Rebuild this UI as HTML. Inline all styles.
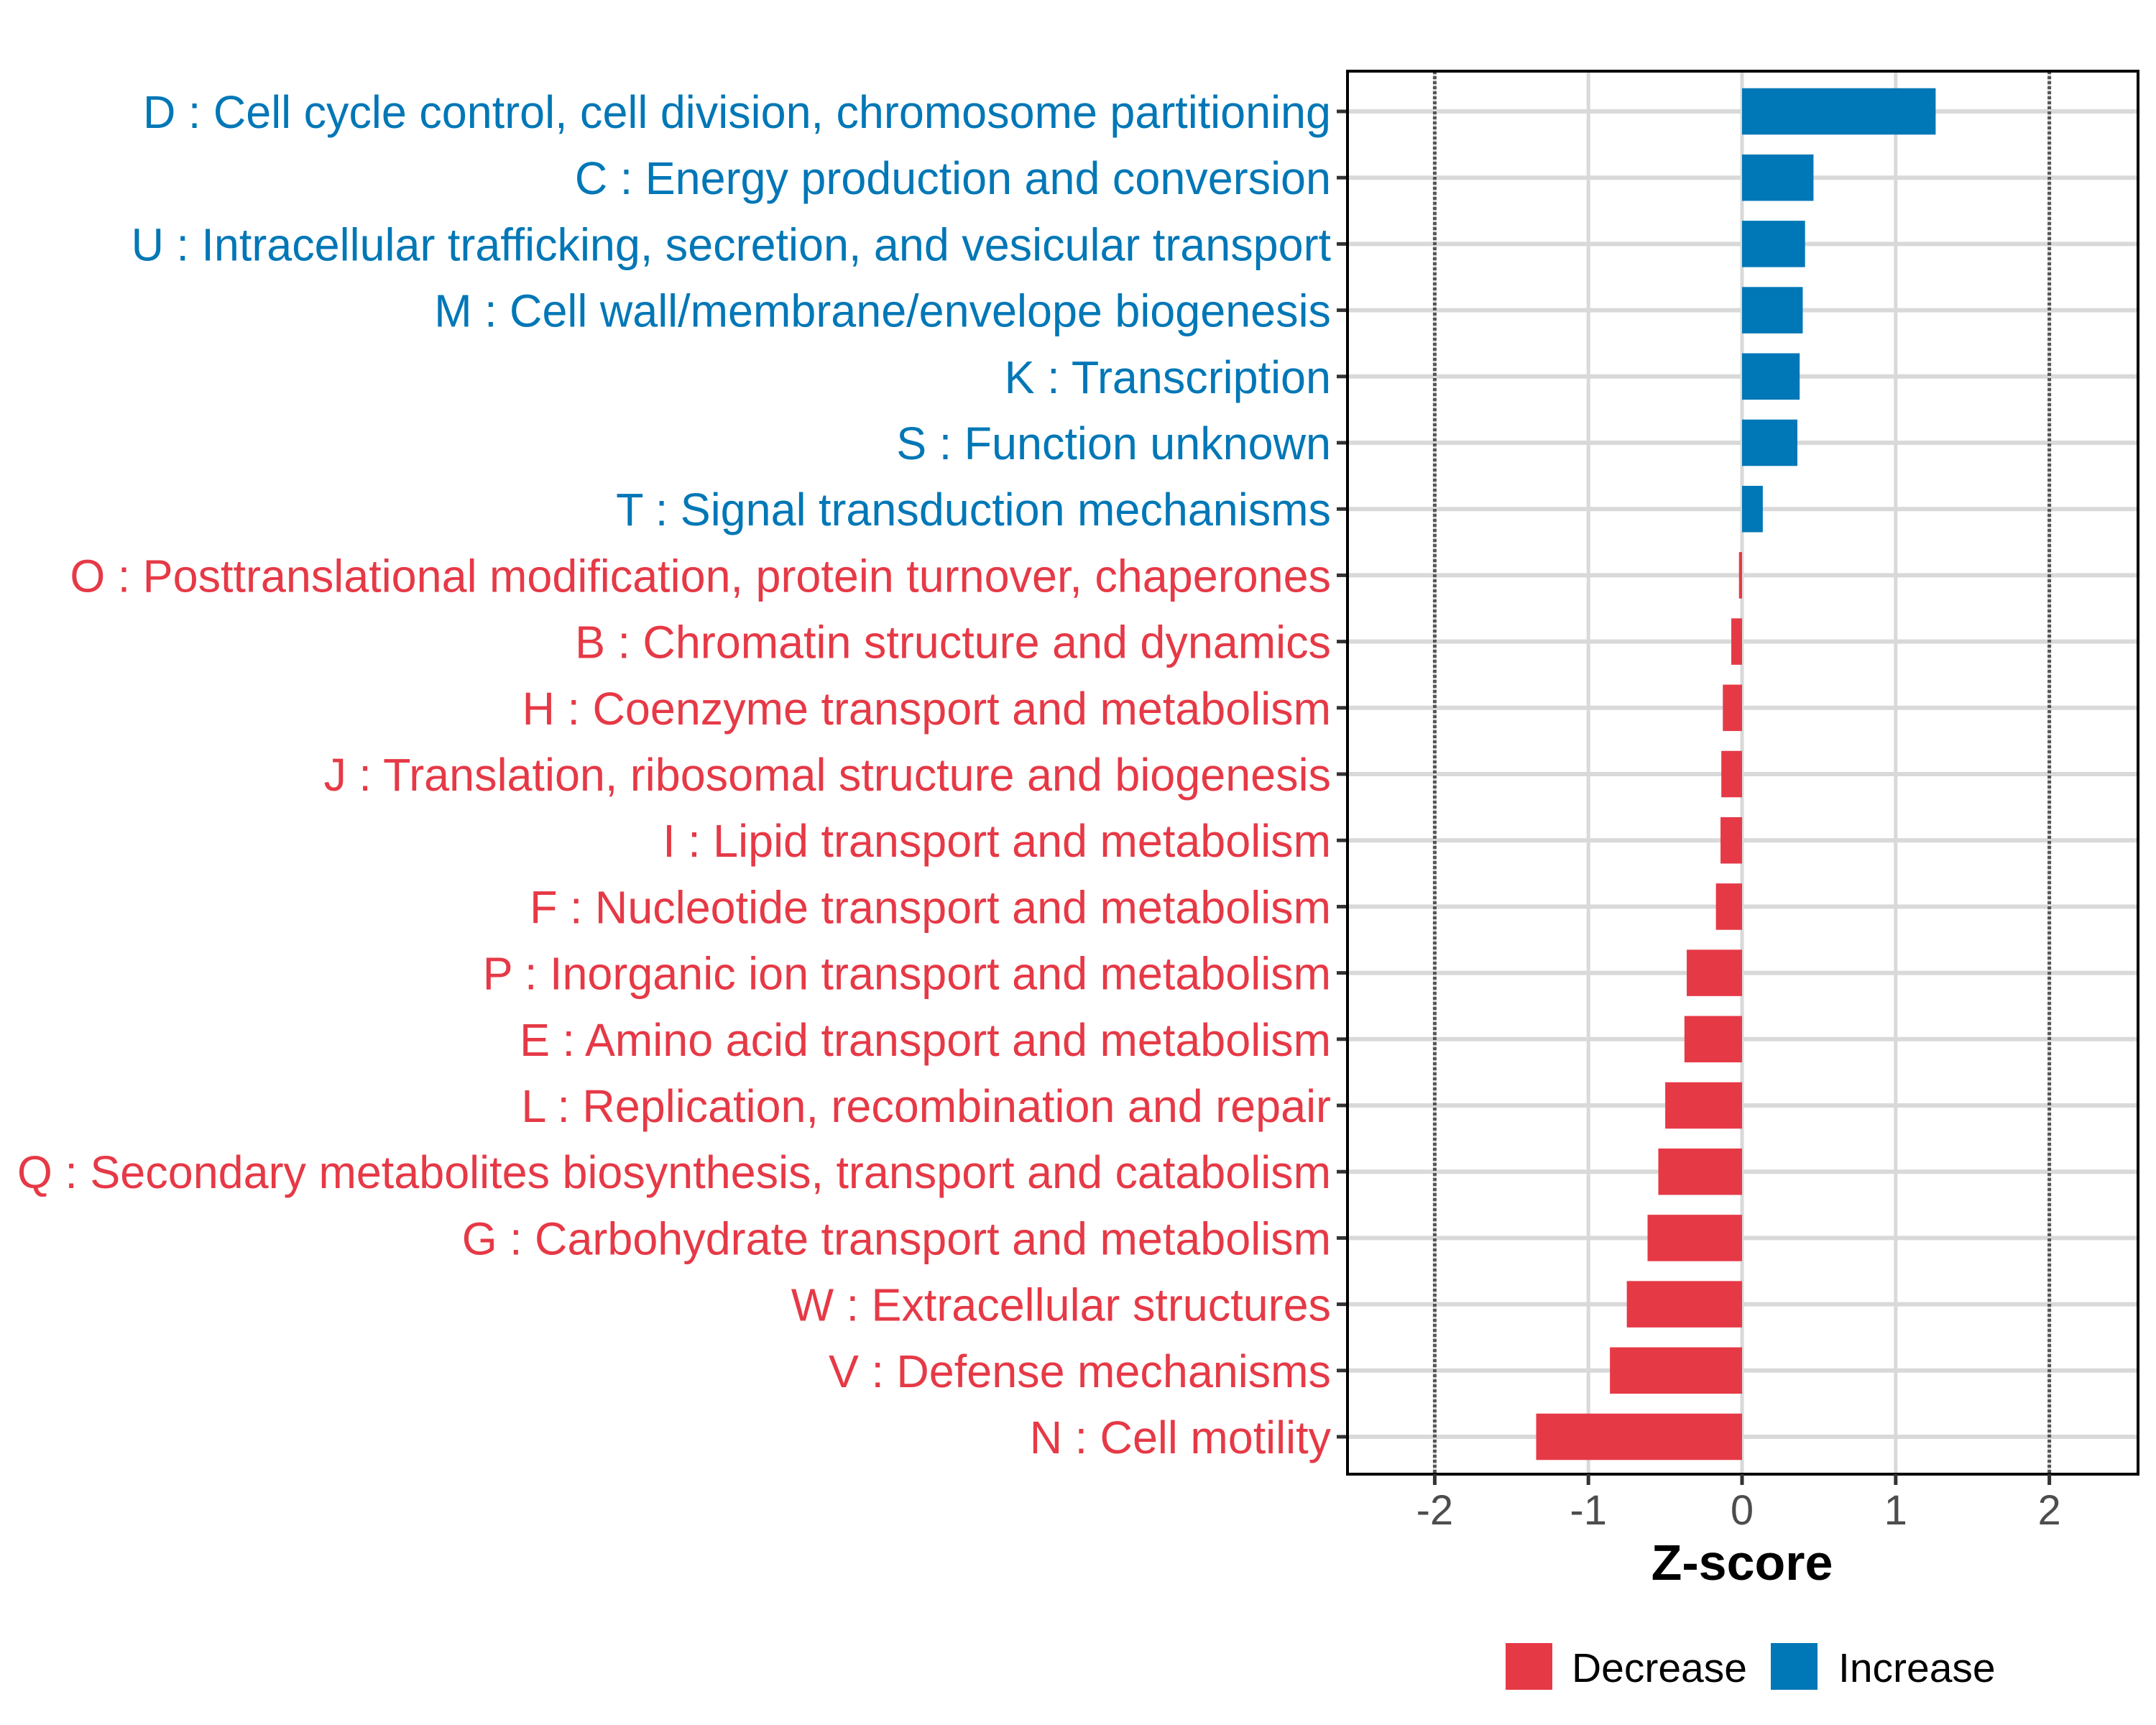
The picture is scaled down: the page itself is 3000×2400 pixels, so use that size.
<!DOCTYPE html>
<html><head><meta charset="utf-8">
<style>
html,body{margin:0;padding:0;background:#fff;}
svg{display:block;font-family:"Liberation Sans",Arial,sans-serif;}
</style></head>
<body>
<svg id="chart" width="3000" height="2400" viewBox="0 0 3000 2400" xmlns="http://www.w3.org/2000/svg">
<g id="grid"></g>
<g id="bars"></g>
<g id="ylabels"></g>
<g id="xaxis"></g>
<text x="2424" y="2198" text-anchor="middle" font-size="70" font-weight="bold" fill="#000">Z-score</text>
<g>
<g>
<rect x="2095" y="2286" width="65" height="65" fill="#E63946"/>
<text id="lg1" x="2187" y="2340" font-size="57" fill="#000">Decrease</text>
</g>
<g>
<rect x="2464" y="2286" width="65" height="65" fill="#0077B6"/>
<text id="lg2" x="2558" y="2340" font-size="57" fill="#000">Increase</text>
</g>
</g>
</svg>
<script>
const categories = [
"D : Cell cycle control, cell division, chromosome partitioning",
"C : Energy production and conversion",
"U : Intracellular trafficking, secretion, and vesicular transport",
"M : Cell wall/membrane/envelope biogenesis",
"K : Transcription",
"S : Function unknown",
"T : Signal transduction mechanisms",
"O : Posttranslational modification, protein turnover, chaperones",
"B : Chromatin structure and dynamics",
"H : Coenzyme transport and metabolism",
"J : Translation, ribosomal structure and biogenesis",
"I : Lipid transport and metabolism",
"F : Nucleotide transport and metabolism",
"P : Inorganic ion transport and metabolism",
"E : Amino acid transport and metabolism",
"L : Replication, recombination and repair",
"Q : Secondary metabolites biosynthesis, transport and catabolism",
"G : Carbohydrate transport and metabolism",
"W : Extracellular structures",
"V : Defense mechanisms",
"N : Cell motility"
];
const zscores = [1.26,0.465,0.41,0.395,0.375,0.36,0.135,-0.02,-0.07,-0.125,-0.135,-0.14,-0.17,-0.36,-0.375,-0.5,-0.545,-0.615,-0.75,-0.86,-1.34];
const xTicks = [-2,-1,0,1,2];
const xTickLabels = ["-2","-1","0","1","2"];
const thresholds = [-2,2];

const NS="http://www.w3.org/2000/svg";
const L=1875,R=2975,T=99,B=2051;
const X0=2424,UNIT=213.8;
function xs(v){return X0+v*UNIT;}
const ROW0=155,ROWN=1999;
function ys(i){return ROW0+i*(ROWN-ROW0)/(categories.length-1);}
const step=(ROWN-ROW0)/(categories.length-1);
const BLUE="#0077B6",RED="#E63946";
function mk(tag,attrs,parent){const e=document.createElementNS(NS,tag);for(const k in attrs)e.setAttribute(k,attrs[k]);parent.appendChild(e);return e;}
const grid=document.getElementById('grid'),bars=document.getElementById('bars'),yl=document.getElementById('ylabels'),xa=document.getElementById('xaxis');
xTicks.forEach(v=>{
  const l=mk('line',{x1:xs(v),x2:xs(v),y1:T,y2:B,stroke:'#D9D9D9','stroke-width':5},grid);
  
  
});
categories.forEach((c,i)=>{
  const l=mk('line',{x1:L,x2:R,y1:ys(i),y2:ys(i),stroke:'#D9D9D9','stroke-width':6},grid);
  
  
});
thresholds.forEach(v=>{
  const l=mk('line',{x1:xs(v),x2:xs(v),y1:T,y2:B,stroke:'#555','stroke-width':5,'stroke-dasharray':'4 3'},grid);
  
  
});
const bh=step*0.7;
zscores.forEach((v,i)=>{
  const x1=Math.min(xs(0),xs(v)),w=Math.abs(xs(v)-xs(0));
  const r=mk('rect',{x:x1,y:ys(i)-bh/2,width:w,height:bh,fill:v>=0?BLUE:RED},bars);
  
  
});
const pb=mk('rect',{x:L,y:T,width:R-L,height:B-T,fill:'none',stroke:'#000','stroke-width':4},xa);


const labels=[];
categories.forEach((c,i)=>{
  const tk=mk('line',{x1:L-15,x2:L,y1:ys(i),y2:ys(i),stroke:'#333','stroke-width':5},yl);
  
  
  const t=mk('text',{x:1852,y:ys(i)+23,'text-anchor':'end','font-size':64,fill:zscores[i]>=0?BLUE:RED},yl);
  t.textContent=c;
  
  
  labels.push(t);
});
const ref=labels[0].getComputedTextLength();
const f=ref>0?1653/ref:1;
labels.forEach(t=>{const w=t.getComputedTextLength();t.setAttribute('textLength',w*f);t.setAttribute('lengthAdjust','spacingAndGlyphs');});
xTicks.forEach((v,i)=>{
  const tk=mk('line',{x1:xs(v),x2:xs(v),y1:B,y2:B+15,stroke:'#333','stroke-width':5},xa);
  
  
  const t=mk('text',{x:xs(v),y:2121,'text-anchor':'middle','font-size':58,fill:'#4D4D4D'},xa);
  t.textContent=xTickLabels[i];
  
  
});
</script>
</body></html>
